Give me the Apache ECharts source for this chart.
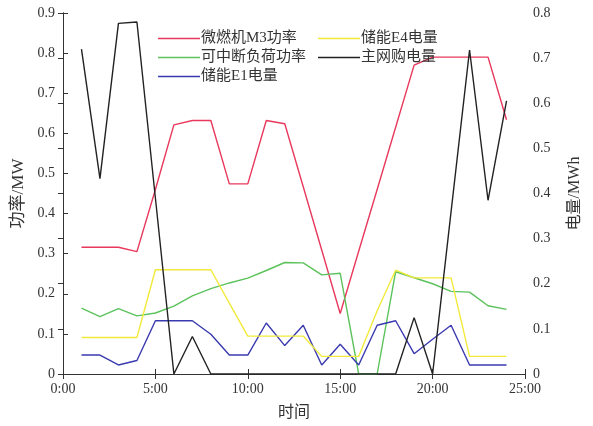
<!DOCTYPE html>
<html>
<head>
<meta charset="utf-8">
<script src="https://cdn.jsdelivr.net/npm/echarts@6/dist/echarts.min.js"></script>
<style>
  html, body { margin: 0; padding: 0; background: #fff; }
  #chart { width: 593px; height: 426px; }
</style>
</head>
<body>
<div id="chart"></div>
<script>
// Hourly time points (h)
const hours = [1,2,3,4,5,6,7,8,9,10,11,12,13,14,15,16,17,18,19,20,21,22,23,24];

// Power series (MW, left axis)
const microTurbineM3 = [0.316,0.316,0.316,0.305,0.46,0.621,0.632,0.632,0.474,0.474,0.632,0.624,0.467,0.309,0.151,0.306,0.46,0.615,0.77,0.79,0.79,0.79,0.79,0.634];
const interruptibleLoad = [0.164,0.143,0.163,0.145,0.152,0.169,0.195,0.213,0.227,0.239,0.258,0.278,0.277,0.247,0.251,0,0,0.255,0.240,0.225,0.206,0.204,0.170,0.161];

// Energy series (MWh, right axis)
const storageE4 = [0.081,0.081,0.081,0.081,0.231,0.231,0.231,0.231,0.157,0.084,0.084,0.084,0.084,0.039,0.039,0.039,0.14,0.23,0.213,0.213,0.213,0.039,0.039,0.039];
const storageE1 = [0.042,0.042,0.020,0.030,0.118,0.118,0.118,0.088,0.042,0.042,0.113,0.063,0.108,0.020,0.066,0.020,0.108,0.118,0.045,0.077,0.108,0.020,0.020,0.020];
const gridPurchase = [0.720,0.433,0.777,0.780,0.39,0,0.083,0,0,0,0,0,0,0,0,0,0,0,0.125,0,0.36,0.718,0.385,0.605];

const names = ['微燃机M3功率', '可中断负荷功率', '储能E1电量', '储能E4电量', '主网购电量'];
const colors = ['#e8385c', '#5cc25c', '#3a3ab0', '#f2ea3a', '#222222'];

const pairs = arr => hours.map((h, i) => [h, arr[i]]);

const serif = '"Liberation Serif", "Noto Sans CJK SC", serif';
const textColor = '#333';
const axisColor = '#333';

function line(name, data, axis, color) {
  return {
    name, type: 'line', yAxisIndex: axis, data: pairs(data),
    symbol: 'none', lineStyle: { color, width: 1.4 }, itemStyle: { color },
    animation: false
  };
}

// Thin bar used as a plain line swatch in the legend
const lineIcon = 'path://M0,0 L42,0 L42,1.4 L0,1.4 Z';

function legendColumn(data, left) {
  return {
    data, orient: 'vertical', left, top: 26,
    icon: lineIcon, itemWidth: 42, itemHeight: 1.4, itemGap: 4,
    textStyle: { fontFamily: serif, fontSize: 15, lineHeight: 15, color: textColor, padding: [0, 0, 0, -4] }
  };
}

const chart = echarts.init(document.getElementById('chart'));
chart.setOption({
  animation: false,
  textStyle: { fontFamily: serif },
  grid: { left: 63, right: 68, top: 13, bottom: 49 },
  legend: [
    legendColumn(names.slice(0, 3), 153),
    legendColumn(names.slice(3), 313)
  ],
  xAxis: [
    {
      type: 'value', min: 0, max: 25, interval: 5, position: 'bottom',
      name: '时间', nameLocation: 'middle', nameGap: 31,
      nameTextStyle: { fontFamily: serif, fontSize: 16, color: textColor },
      axisLine: { lineStyle: { color: axisColor } },
      axisTick: { inside: true, length: 5, lineStyle: { color: axisColor } },
      axisLabel: { formatter: v => v + ':00', fontFamily: serif, fontSize: 14, color: textColor, margin: 8 },
      splitLine: { show: false }
    },
    {
      type: 'value', min: 0, max: 25, interval: 5, position: 'top',
      axisLine: { lineStyle: { color: axisColor } },
      axisTick: { inside: true, length: 5, lineStyle: { color: axisColor } },
      axisLabel: { show: false }, splitLine: { show: false }
    }
  ],
  yAxis: [
    {
      type: 'value', min: 0, max: 0.9, interval: 0.1, position: 'left',
      name: '功率/MW', nameLocation: 'middle', nameGap: 27, nameRotate: 90,
      nameTextStyle: { fontFamily: serif, fontSize: 17, color: textColor },
      axisLine: { show: true, lineStyle: { color: axisColor } },
      axisTick: { show: true, inside: true, length: 5, lineStyle: { color: axisColor } },
      axisLabel: { formatter: v => +v.toFixed(1) + '', fontFamily: serif, fontSize: 14, color: textColor, margin: 8 },
      splitLine: { show: false }
    },
    {
      type: 'value', min: 0, max: 0.8, interval: 0.1, position: 'right',
      name: '电量/MWh', nameLocation: 'middle', nameGap: 42, nameRotate: 90,
      nameTextStyle: { fontFamily: serif, fontSize: 16, color: textColor },
      axisLine: { show: true, lineStyle: { color: axisColor } },
      axisTick: { show: true, inside: true, length: 5, lineStyle: { color: axisColor } },
      axisLabel: { formatter: v => +v.toFixed(1) + '', fontFamily: serif, fontSize: 14, color: textColor, margin: 8 },
      splitLine: { show: false }
    }
  ],
  series: [
    line(names[0], microTurbineM3, 0, colors[0]),
    line(names[1], interruptibleLoad, 0, colors[1]),
    line(names[2], storageE1, 1, colors[2]),
    line(names[3], storageE4, 1, colors[3]),
    line(names[4], gridPurchase, 1, colors[4])
  ]
});
</script>
</body>
</html>
